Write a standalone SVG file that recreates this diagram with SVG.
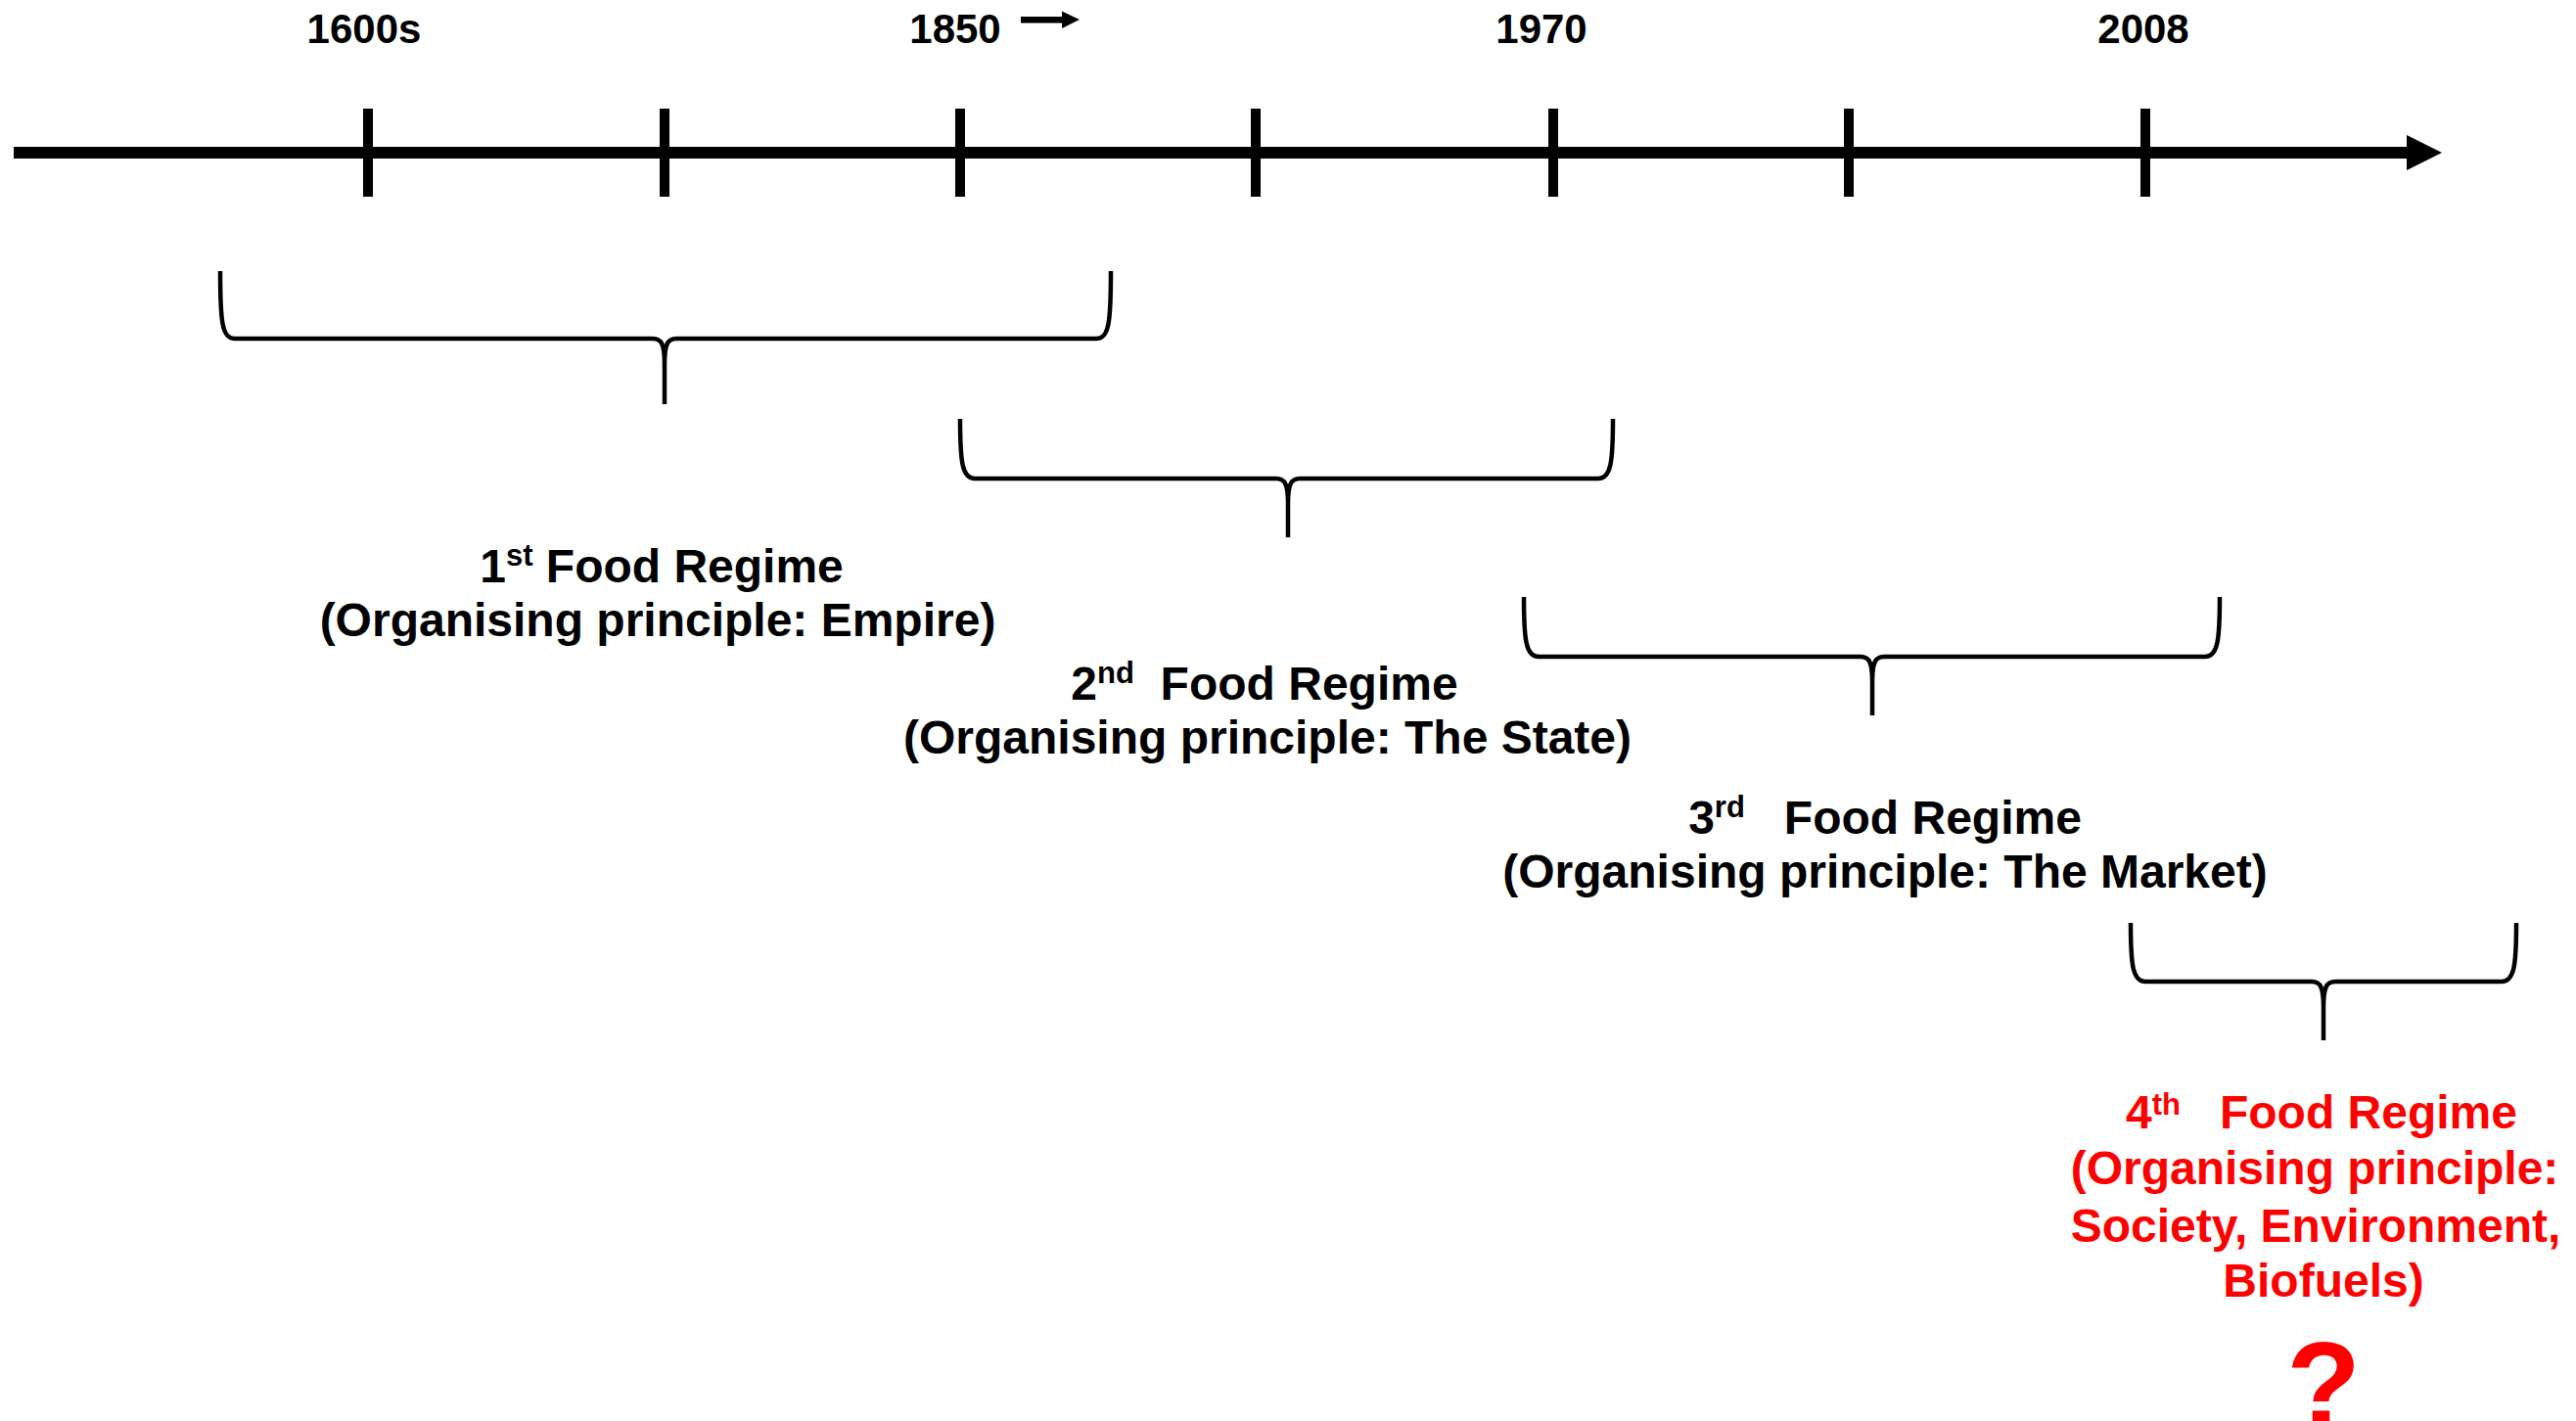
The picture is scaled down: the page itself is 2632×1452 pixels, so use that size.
<svg xmlns="http://www.w3.org/2000/svg" width="2632" height="1452" viewBox="0 0 2632 1452">
<style>
  .yr { font-family: "Liberation Sans", Arial, sans-serif; font-weight: bold; font-size: 42px; fill: #000; text-anchor: middle; }
  .lbl { font-family: "Liberation Sans", Arial, sans-serif; font-weight: bold; font-size: 48px; fill: #000; text-anchor: middle; white-space: pre; }
  .red { fill: #FF0000; }
  .sup { font-size: 31px; }
  .brace { fill: none; stroke: #000; stroke-width: 4.5; stroke-linejoin: round; stroke-linecap: butt; }
  .tick { stroke: #000; stroke-width: 10; }
</style>
<rect width="2632" height="1452" fill="#fff"/>

<g id="timeline">
  <line x1="14" y1="156" x2="2462" y2="156" stroke="#000" stroke-width="12"/>
  <polygon points="2459,138 2495,156 2459,174" fill="#000"/>
  <line class="tick" x1="376" y1="111" x2="376" y2="201"/>
  <line class="tick" x1="679" y1="111" x2="679" y2="201"/>
  <line class="tick" x1="981" y1="111" x2="981" y2="201"/>
  <line class="tick" x1="1283" y1="111" x2="1283" y2="201"/>
  <line class="tick" x1="1587" y1="111" x2="1587" y2="201"/>
  <line class="tick" x1="1889" y1="111" x2="1889" y2="201"/>
  <line class="tick" x1="2192" y1="111" x2="2192" y2="201"/>
</g>

<g id="year-labels">
  <text class="yr" x="372" y="44">1600s</text>
  <text class="yr" x="976" y="44">1850</text>
  <g id="arrow-1850">
    <rect x="1043" y="17" width="43" height="6.5" fill="#000"/>
    <polygon points="1085,11.5 1103,20 1085,29" fill="#000"/>
  </g>
  <text class="yr" x="1575" y="44">1970</text>
  <text class="yr" x="2190" y="44">2008</text>
</g>

<g id="connectors">
  <path id="brace1" class="brace" d="M225,277 C225,330 227,346 240,346 L667,346 C676,346 679,352 679,372 L679,413 M679,372 C679,352 682,346 691,346 L1120,346 C1133,346 1135,330 1135,277"/>
  <path id="brace2" class="brace" d="M981,428 C981,472 983,489 996,489 L1304,489 C1313,489 1316,495 1316,515 L1316,549 M1316,515 C1316,495 1319,489 1328,489 L1633,489 C1646,489 1648,472 1648,428"/>
  <path id="brace3" class="brace" d="M1557,610 C1557,654 1559,671 1572,671 L1901,671 C1910,671 1913,677 1913,697 L1913,731 M1913,697 C1913,677 1916,671 1925,671 L2253,671 C2266,671 2268,654 2268,610"/>
  <path id="brace4" class="brace" d="M2177,943 C2177,986 2179,1003 2192,1003 L2362,1003 C2371,1003 2374,1009 2374,1029 L2374,1063 M2374,1029 C2374,1009 2377,1003 2386,1003 L2556,1003 C2569,1003 2571,986 2571,943"/>
</g>

<g id="regime1">
  <text class="lbl" x="676" y="595">1<tspan class="sup" dy="-17">st</tspan><tspan dy="17"> Food Regime</tspan></text>
  <text class="lbl" x="672" y="650">(Organising principle: Empire)</text>
</g>

<g id="regime2">
  <text class="lbl" x="1292" y="715">2<tspan class="sup" dy="-17">nd</tspan><tspan dy="17">  Food Regime</tspan></text>
  <text class="lbl" x="1295" y="770">(Organising principle: The State)</text>
</g>

<g id="regime3">
  <text class="lbl" x="1926" y="852">3<tspan class="sup" dy="-17">rd</tspan><tspan dy="17">   Food Regime</tspan></text>
  <text class="lbl" x="1926" y="907">(Organising principle: The Market)</text>
</g>

<g id="regime4">
  <text class="lbl red" x="2372" y="1153">4<tspan class="sup" dy="-14">th</tspan><tspan dy="14">   Food Regime</tspan></text>
  <text class="lbl red" x="2365" y="1210">(Organising principle:</text>
  <text class="lbl red" x="2366" y="1269">Society, Environment,</text>
  <text class="lbl red" x="2374" y="1325">Biofuels)</text>
  <text class="lbl red" x="2374" y="1458" style="font-size:124px">?</text>
</g>
</svg>
